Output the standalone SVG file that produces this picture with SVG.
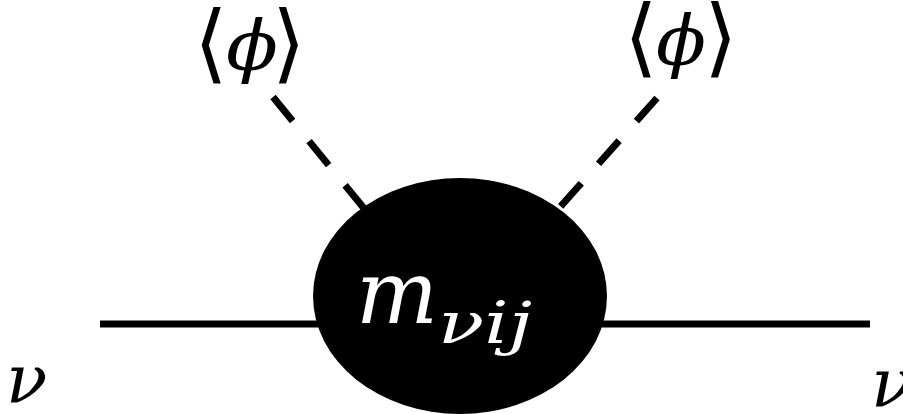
<svg xmlns="http://www.w3.org/2000/svg" width="903" height="414" viewBox="0 0 903 414">
<style>
.ln{stroke:#000;stroke-width:7;fill:none}
.ds{stroke:#000;stroke-width:7;fill:none;stroke-dasharray:31 26}
.t{font-family:"DejaVu Serif","Liberation Serif",serif;font-style:italic;fill:#000}
.b{font-family:"DejaVu Sans",sans-serif;font-size:86px;fill:#000}
.w{fill:#fff}
</style>
<rect width="903" height="414" fill="#fff"/>
<g id="connectors">
<line class="ln" x1="100" y1="324" x2="870" y2="324"/>
<line class="ds" x1="273" y1="97" x2="380" y2="228"/>
<line class="ds" x1="657" y1="98" x2="545" y2="224"/>
</g>
<g id="vertex">
<ellipse cx="460" cy="296" rx="147" ry="118" fill="#000"/>
<text class="t w" x="356" y="323" font-size="88" textLength="82" lengthAdjust="spacingAndGlyphs">m</text>
<text class="t w" x="438" y="343" font-size="58" textLength="94" lengthAdjust="spacingAndGlyphs">νij</text>
</g>
<g id="phi-left">
<text class="b" x="194" y="72">⟨</text>
<text class="t" x="226" y="70" font-size="70" textLength="52" lengthAdjust="spacingAndGlyphs">ϕ</text>
<text class="b" x="272" y="72">⟩</text>
</g>
<g id="phi-right">
<text class="b" x="624" y="66">⟨</text>
<text class="t" x="656" y="65" font-size="70" textLength="50" lengthAdjust="spacingAndGlyphs">ϕ</text>
<text class="b" x="704" y="66">⟩</text>
</g>
<g id="nu-left">
<text class="t" x="6" y="403" font-size="68">ν</text>
</g>
<g id="nu-right">
<text class="t" x="871" y="407" font-size="68">ν</text>
</g>
</svg>
